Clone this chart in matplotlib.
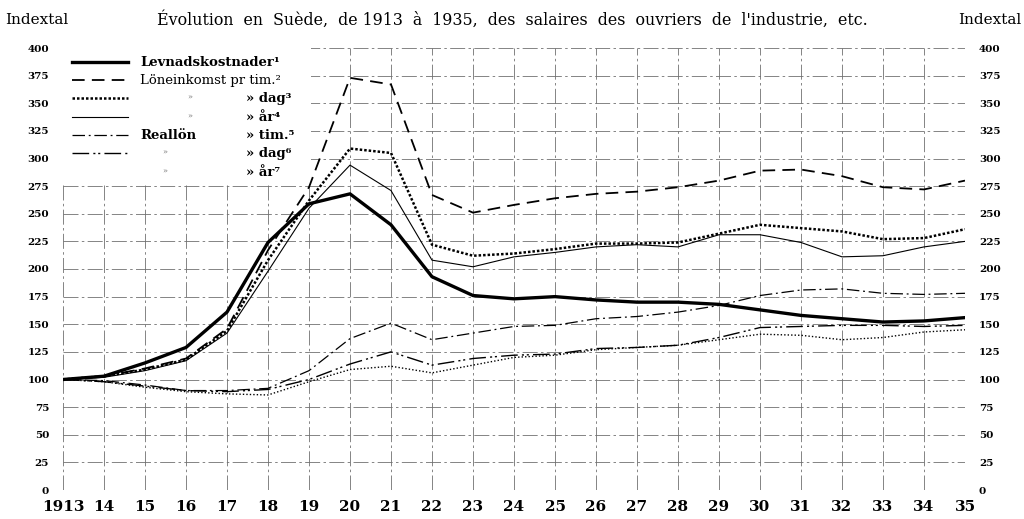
import matplotlib
matplotlib.use('Agg')
import matplotlib.pyplot as plt
from matplotlib.lines import Line2D
from matplotlib.patches import Rectangle

# years 1913..1935
years = list(range(1913, 1936))

levnadskostnader = [100, 103, 115, 129, 161, 224, 259, 268, 240, 193, 176, 173, 175, 172, 170, 170, 168, 163, 158, 155, 152, 153, 156]
lon_tim = [100, 103, 110, 119, 146, 217, 274, 373, 367, 267, 251, 258, 264, 268, 270, 274, 280, 289, 290, 284, 274, 272, 280]
lon_dag = [100, 103, 109, 118, 144, 208, 262, 309, 305, 222, 212, 214, 218, 223, 223, 224, 232, 240, 237, 234, 227, 228, 236]
lon_ar = [100, 102, 108, 117, 142, 198, 255, 294, 271, 208, 202, 211, 215, 220, 222, 220, 231, 231, 224, 211, 212, 220, 225]
real_tim = [100, 99, 95, 90, 90, 92, 108, 137, 151, 136, 142, 148, 149, 155, 157, 161, 167, 176, 181, 182, 178, 177, 178]
real_dag = [100, 98, 94, 90, 89, 91, 100, 114, 125, 113, 119, 122, 123, 128, 129, 131, 138, 147, 148, 149, 149, 148, 149]
real_ar = [100, 98, 93, 89, 87, 86, 98, 109, 112, 106, 113, 120, 122, 127, 129, 131, 136, 141, 140, 136, 138, 143, 145]

x_labels = ['1913'] + [str(y % 100) for y in years[1:]]
y_ticks = list(range(0, 401, 25))

serif = 'DejaVu Serif'

fig = plt.figure(figsize=(10.24, 5.19), dpi=100)
ax = fig.add_axes([63 / 1024, 29 / 519, 902 / 1024, 442 / 519])

ax.set_xlim(1913, 1935)
ax.set_ylim(0, 400)
ax.set_xticks(years)
ax.set_xticklabels(x_labels)
ax.set_yticks(y_ticks)
ax.grid(True, color='#707070', linewidth=0.6, linestyle=(0, (18, 4, 3, 4)))
ax.set_axisbelow(True)
for s in ax.spines.values():
    s.set_visible(False)
ax.tick_params(length=0, labelright=True)
ax.tick_params(axis='y', pad=10, labelsize=7.5)
ax.tick_params(axis='x', pad=7, labelsize=11)
for lab in ax.get_xticklabels():
    lab.set_family(serif)
    lab.set_fontweight('bold')
for t in ax.yaxis.get_major_ticks():
    for lab in (t.label1, t.label2):
        lab.set_family(serif)
        lab.set_fontweight('bold')
        lab.set_fontsize(7.5)

# series
styles = [
    (levnadskostnader, dict(lw=2.4, ls='-')),
    (lon_tim, dict(lw=1.3, ls=(0, (7, 4)))),
    (lon_dag, dict(lw=1.8, ls=(0, (1, 0.8)))),
    (lon_ar, dict(lw=0.8, ls='-')),
    (real_tim, dict(lw=0.9, ls=(0, (10, 3, 1.5, 3)))),
    (real_dag, dict(lw=1.0, ls=(0, (12, 3, 1.5, 2, 1.5, 3)))),
    (real_ar, dict(lw=1.0, ls=(0, (1, 1.5)))),
]
for vals, st in styles:
    ax.plot(years, vals, color='black', zorder=3, **st)

rows_y = [62, 80, 98, 117, 135, 153, 172]
def fy(py):
    return (490 - py) / 442

# legend block (white box hiding grid)
ax.add_patch(Rectangle((0.0, fy(185)), 0.275, 1 - fy(185), transform=ax.transAxes,
                       facecolor='white', edgecolor='none', zorder=2))

fs = 10
for i, (vals, st) in enumerate(styles[:6]):
    ax.add_line(Line2D([9 / 902, 65 / 902], [fy(rows_y[i])] * 2, transform=ax.transAxes,
                       color='black', zorder=4, **st))

ax.text(77 / 902, fy(rows_y[0]), 'Levnadskostnader\u00b9', transform=ax.transAxes,
        va='center', ha='left', family=serif, fontsize=fs - 0.5, fontweight='bold', zorder=5)
ax.text(77 / 902, fy(rows_y[1]), 'Löneinkomst pr tim.\u00b2', transform=ax.transAxes,
        va='center', ha='left', family=serif, fontsize=fs - 0.5, zorder=5)
ax.text(77 / 902, fy(rows_y[4]), 'Reallön', transform=ax.transAxes,
        va='center', ha='left', family=serif, fontsize=fs - 0.5, fontweight='bold', zorder=5)
for r in (2, 3):
    ax.text(127 / 902, fy(rows_y[r]), '»', transform=ax.transAxes,
            va='center', ha='center', family=serif, fontsize=6, color='#777777', zorder=5)
for r in (5, 6):
    ax.text(102 / 902, fy(rows_y[r]), '»', transform=ax.transAxes,
            va='center', ha='center', family=serif, fontsize=6, color='#777777', zorder=5)
sub = ['» dag\u00b3', '» år\u2074', '» tim.\u2075', '» dag\u2076', '» år\u2077']
for k, r in enumerate(range(2, 7)):
    ax.text(183 / 902, fy(rows_y[r]), sub[k], transform=ax.transAxes,
            va='center', ha='left', family=serif, fontsize=fs - 0.5, fontweight='bold', zorder=5)

# header texts
fig.text(512 / 1024, 1 - 20 / 519, "Évolution  en  Suède,  de 1913  à  1935,  des  salaires  des  ouvriers  de  l'industrie,  etc.",
         ha='center', va='center', family=serif, fontsize=11.4)
fig.text(5 / 1024, 1 - 20 / 519, 'Indextal', ha='left', va='center', family=serif, fontsize=11)
fig.text(1021 / 1024, 1 - 20 / 519, 'Indextal', ha='right', va='center', family=serif, fontsize=11)

fig.savefig('out.png', dpi=100)
